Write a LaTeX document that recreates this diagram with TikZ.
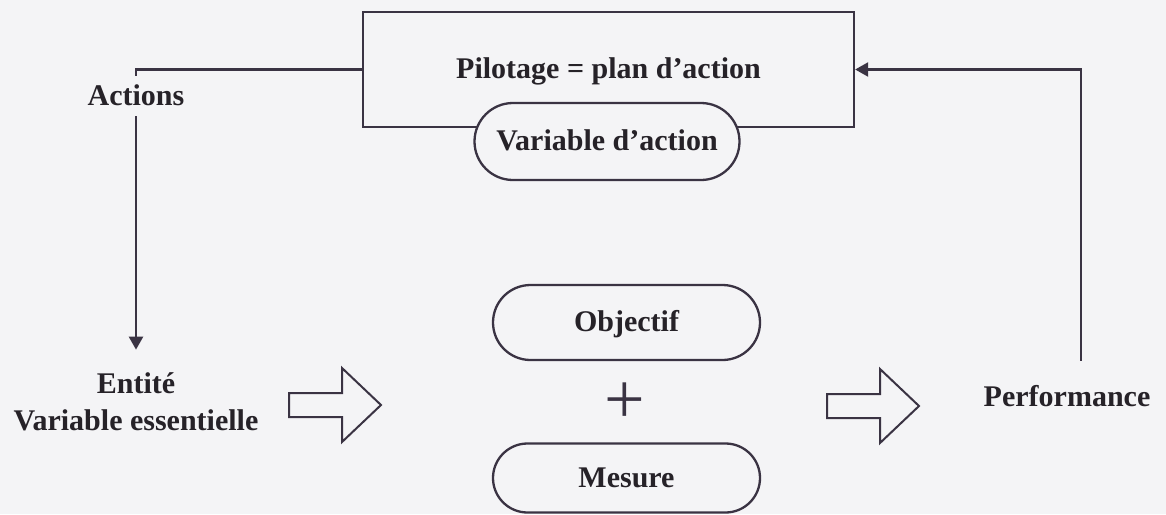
\documentclass[tikz,border=0pt]{standalone}
\usepackage{fontspec}
\setmainfont{Liberation Serif}
\usetikzlibrary{shapes.misc,arrows.meta}
\definecolor{ink}{HTML}{3A3343}
\definecolor{paper}{HTML}{F4F4F6}
\definecolor{txt}{HTML}{262228}

\begin{document}
\begin{tikzpicture}[x=1pt,y=-1pt,
  lblfont/.style={font=\fontsize{30}{37}\selectfont\bfseries, text=txt},
  lbl/.style={lblfont, text height=20pt, text depth=2pt, inner sep=2pt},
  framebox/.style={lbl, draw=ink, line width=2.3pt, minimum width=491pt, minimum height=115pt, inner sep=0pt},
  pill/.style={lbl, rounded rectangle, draw=ink, line width=2.3pt, fill=paper, inner sep=0pt},
  link/.style={draw=ink, line width=2.3pt},
  tip/.style={-{Triangle[length=13pt,width=14pt]}},
  fatarrow/.pic={\draw[ink, line width=2pt, line join=miter]
    (0,-12) -- (53,-12) -- (53,-37) -- (92,0) -- (53,37) -- (53,12) -- (0,12) -- cycle;}
]
\fill[paper] (0,0) rectangle (1166,514);
\useasboundingbox (0,0) rectangle (1166,514);

% control block and its action variable
\node[framebox] (pilot) at (608.5,69.5) {Pilotage = plan d’action};
\node[pill, minimum width=265pt, minimum height=77pt] (varact) at (607,141.5) {Variable d’action};

% objective + measure
\node[pill, minimum width=267pt, minimum height=75pt] (objectif) at (626.5,322.5) {Objectif};
\node[font=\fontsize{72}{72}\selectfont, text=ink, inner sep=0pt] (plus) at (625,403) {+};
\node[pill, minimum width=267pt, minimum height=69pt] (mesure) at (626.5,478) {Mesure};

% entity and performance
\node[lblfont, align=center, inner sep=2pt] (entite) at (136,402) {Entité\\Variable essentielle};
\node[lbl] (perf) at (1067,397) {Performance};

% feedback loop
\node[lbl, inner xsep=2pt, inner ysep=9pt] (actions) at (136,96) {Actions};
\draw[link] (pilot.west) -| (actions.north);
\draw[link, tip, shorten >=21pt] (actions.south) -- (entite.north);
\draw[link, tip] ([xshift=14pt,yshift=23pt]perf.north) |- (pilot.east);

% flow arrows
\pic at (289,405) {fatarrow};
\pic at (827,406) {fatarrow};
\end{tikzpicture}
\end{document}
